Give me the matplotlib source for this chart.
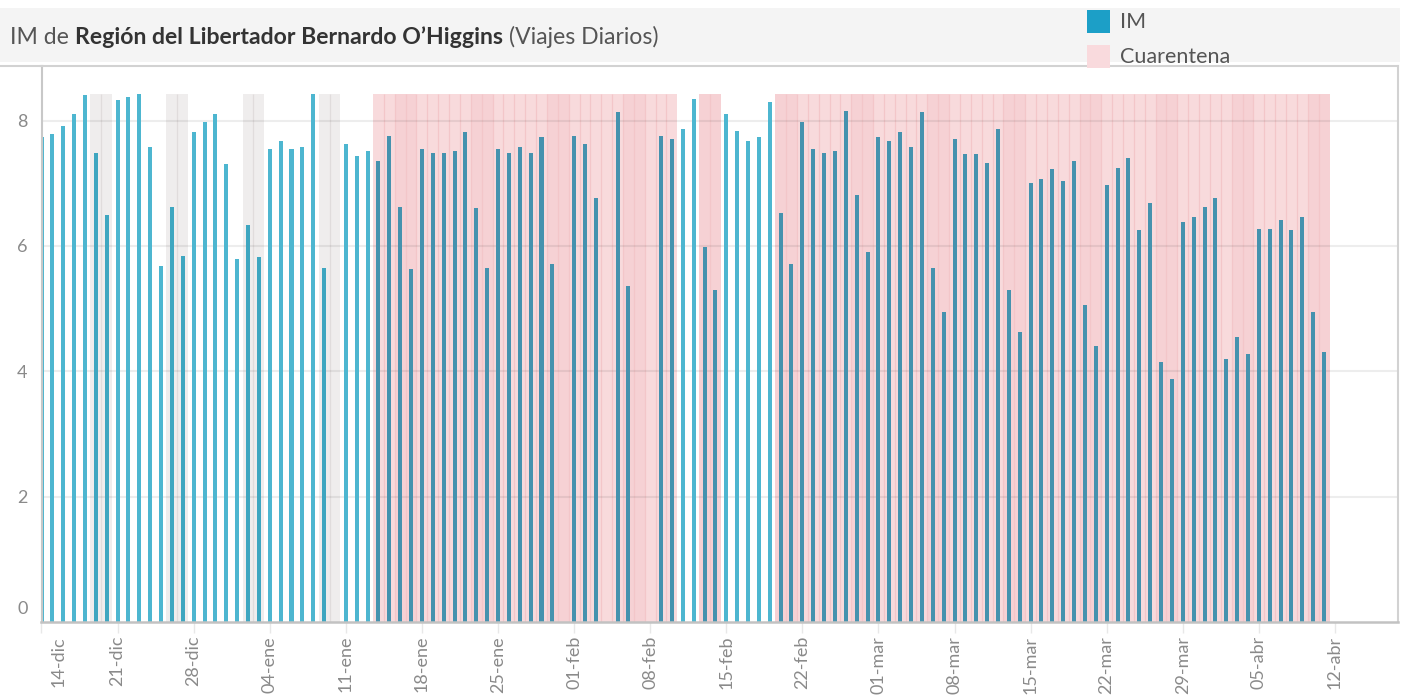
import matplotlib
matplotlib.use('Agg')
import matplotlib.pyplot as plt
import matplotlib.dates as mdates
from matplotlib.patches import Rectangle
from matplotlib.lines import Line2D
from matplotlib.ticker import FuncFormatter
import matplotlib.transforms as mtransforms
import numpy as np
import pandas as pd

# ---------------- data ----------------
start_date = '2020-12-14'
end_date = '2021-04-11'
nan = float('nan')
im_values = [
    7.74, 7.78, 7.92, 8.11, 8.40, 7.49, 6.49,   # 14-20 dic
    8.32, 8.38, 8.43, 7.57, 5.68, 6.62, 5.84,   # 21-27 dic
    7.81, 7.97, 8.11, 7.30, 5.79, 6.33, 5.82,   # 28 dic - 03 ene
    7.54, 7.67, 7.54, 7.57, 8.43, 5.64, nan,    # 04-10 ene
    7.62, 7.43, 7.51, 7.35, 7.76, 6.62, 5.63,   # 11-17 ene
    7.54, 7.49, 7.49, 7.51, 7.81, 6.60, 5.64,   # 18-24 ene
    7.54, 7.49, 7.57, 7.49, 7.73, 5.71, nan,    # 25-31 ene
    7.76, 7.62, 6.76, nan, 8.13, 5.36, nan,     # 01-07 feb
    nan, 7.76, 7.70, 7.86, 8.35, 5.99, 5.29,    # 08-14 feb
    8.11, 7.84, 7.67, 7.73, 8.29, 6.52, 5.71,   # 15-21 feb
    7.97, 7.54, 7.49, 7.51, 8.16, 6.81, 5.90,   # 22-28 feb
    7.73, 7.67, 7.81, 7.57, 8.13, 5.64, 4.94,   # 01-07 mar
    7.70, 7.46, 7.46, 7.32, 7.86, 5.29, 4.63,   # 08-14 mar
    7.00, 7.06, 7.22, 7.03, 7.35, 5.06, 4.40,   # 15-21 mar
    6.97, 7.24, 7.41, 6.25, 6.69, 4.14, 3.88,   # 22-28 mar
    6.38, 6.46, 6.62, 6.76, 4.20, 4.55, 4.28,   # 29 mar - 04 abr
    6.27, 6.27, 6.41, 6.25, 6.46, 4.94, 4.31,   # 05-11 abr
]
quarantine_periods = [
    ('2021-01-14', '2021-02-10'),
    ('2021-02-13', '2021-02-14'),
    ('2021-02-20', '2021-04-11'),
]
month_abbr_es = ['ene', 'feb', 'mar', 'abr', 'may', 'jun',
                 'jul', 'ago', 'sep', 'oct', 'nov', 'dic']
y_ticks = [0, 2, 4, 6, 8]
title_parts = [('IM de', 'normal', '#555555'),
               ('Región del Libertador Bernardo O’Higgins', 'bold', '#333333'),
               ('(Viajes Diarios)', 'normal', '#555555')]
legend_labels = ['IM', 'Cuarentena']

# ---------------- derived ----------------
dates = pd.date_range(start_date, end_date, freq='D')
vals = np.array(im_values, dtype=float)
xd = mdates.date2num(dates.to_pydatetime())
in_q = np.zeros(len(dates), dtype=bool)
for a, b in quarantine_periods:
    in_q |= (dates >= pd.Timestamp(a)) & (dates <= pd.Timestamp(b))
weekend = np.asarray(dates.dayofweek >= 5)
band_h = np.nanmax(vals)

# ---------------- styling ----------------
FONT = ['Lato', 'DejaVu Sans']
plt.rcParams['font.family'] = FONT
W, H = 1408, 698
fig = plt.figure(figsize=(W / 100, H / 100), dpi=100)

def fx(px):
    return px / W

def fy(py):
    return 1 - py / H

# header band
fig.patches.append(Rectangle((0, fy(62)), fx(1400), (62 - 8) / H,
                             transform=fig.transFigure, facecolor='#f4f4f4',
                             edgecolor='none', zorder=0))

ax_l, ax_r, ax_t, ax_b = 41.5, 1398, 66, 622
ax = fig.add_axes([fx(ax_l), fy(ax_b), fx(ax_r - ax_l), (ax_b - ax_t) / H])

# background bands (cuarentena / weekends)
c_pink, c_pink_we, c_grey = '#f8dadc', '#f6d1d4', '#efeded'
bg_colors = []
bg_x = []
for i in range(len(dates)):
    if in_q[i]:
        bg_colors.append(c_pink_we if weekend[i] else c_pink)
        bg_x.append(xd[i])
    elif weekend[i]:
        bg_colors.append(c_grey)
        bg_x.append(xd[i])
ax.bar(bg_x, band_h, width=1.0, color=bg_colors, linewidth=0, zorder=0.3)

# faint boundary lines between consecutive shaded days
shaded = in_q | weekend
for i in range(len(dates) - 1):
    if shaded[i] and shaded[i + 1]:
        if in_q[i] and in_q[i + 1]:
            lc = '#f3c6c9'
        elif not in_q[i] and not in_q[i + 1]:
            lc = '#e0dcdc'
        else:
            continue
        ax.vlines(xd[i] + 0.5, 0, band_h, colors=lc, linewidth=0.9, zorder=0.4)

# gridlines
for yt in y_ticks[1:]:
    ax.axhline(yt, color='black', alpha=0.07, linewidth=1.5, zorder=0.6)

# bars
valid = ~np.isnan(vals)
bar_colors = []
for i in range(len(dates)):
    if in_q[i]:
        bar_colors.append('#4592ae')
    elif weekend[i]:
        bar_colors.append('#3ea6c0')
    else:
        bar_colors.append('#4db6d0')
bar_colors = np.array(bar_colors)
ax.bar(xd[valid], vals[valid], width=0.37, color=bar_colors[valid],
       linewidth=0, zorder=2)

ax.set_xlim(xd[0], xd[0] + 124.8)
ax.set_ylim(0, 8.87)

# axes style
for s in ['top', 'right']:
    ax.spines[s].set_color('#d2d2d2')
    ax.spines[s].set_linewidth(1.5)
ax.spines['left'].set_color('#c8c8c8')
ax.spines['left'].set_linewidth(1.5)
ax.spines['bottom'].set_color('#c2c2c2')
ax.spines['bottom'].set_linewidth(1.8)
ax.set_facecolor('white')

ax.set_yticks(y_ticks)
ax.set_yticklabels([str(v) for v in y_ticks])
ax.tick_params(axis='y', length=0, pad=10, labelsize=13, labelcolor='#8a8a8a')

ax.xaxis.set_major_locator(mdates.WeekdayLocator(byweekday=mdates.MO))

def fmt(v, pos):
    d = mdates.num2date(v)
    return f"{d.day:02d}-{month_abbr_es[d.month - 1]}"

ax.xaxis.set_major_formatter(FuncFormatter(fmt))
ax.tick_params(axis='x', length=8, width=1, color='#e8e8e8', pad=2,
               labelsize=13, labelcolor='#8a8a8a', labelrotation=90)

fig.canvas.draw()
# shift the first x label inside the pane, like the original
xlabels = ax.get_xticklabels()
if xlabels:
    first = xlabels[0]
    first.set_transform(first.get_transform() +
                        mtransforms.ScaledTranslation(17 / 100, 0, fig.dpi_scale_trans))
# lift the "0" label above the baseline, like the original
ylabels = ax.get_yticklabels()
if ylabels:
    zero = ylabels[0]
    zero.set_transform(zero.get_transform() +
                       mtransforms.ScaledTranslation(0, 14 / 100, fig.dpi_scale_trans))

# top border extends to the figure's left edge
fig.lines.append(Line2D([0, fx(ax_l)], [fy(ax_t), fy(ax_t)], transform=fig.transFigure,
                        color='#d2d2d2', linewidth=1.5))

# title with mixed weights
renderer = fig.canvas.get_renderer()
TS = 16.6
space_t = fig.text(0, 0, 'a a', fontsize=TS)
aa_t = fig.text(0, 0, 'aa', fontsize=TS)
sp_w = space_t.get_window_extent(renderer).width - aa_t.get_window_extent(renderer).width
space_t.remove()
aa_t.remove()
xpos = 10
for txt, wt, col in title_parts:
    t = fig.text(fx(xpos), fy(37), txt, fontsize=TS, fontweight=wt, color=col,
                 va='center', ha='left')
    bb = t.get_window_extent(renderer)
    xpos = bb.x1 + sp_w

# legend
fig.patches.append(Rectangle((fx(1087), fy(33)), fx(23), 23 / H,
                             transform=fig.transFigure, facecolor='#1c9fc7',
                             edgecolor='none', zorder=5))
fig.patches.append(Rectangle((fx(1087), fy(68)), fx(23), 23 / H,
                             transform=fig.transFigure, facecolor='#f9dadd',
                             edgecolor='none', zorder=5))
fig.text(fx(1120), fy(22), legend_labels[0], fontsize=15.5, color='#555555',
         va='center', ha='left', zorder=6)
fig.text(fx(1120), fy(57), legend_labels[1], fontsize=15.5, color='#555555',
         va='center', ha='left', zorder=6)

fig.savefig('out.png', dpi=100)
